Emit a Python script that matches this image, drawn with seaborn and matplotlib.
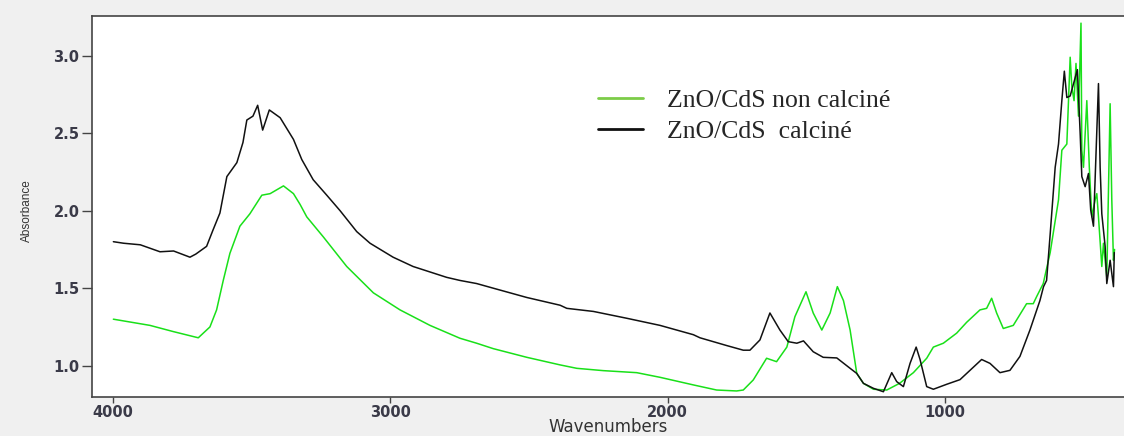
import matplotlib
matplotlib.use("Agg")
import matplotlib.pyplot as plt
from matplotlib.lines import Line2D
import seaborn as sns
import pandas as pd

# ---- data ----
calc_wn = [3997, 3960, 3900, 3829, 3780, 3721, 3700, 3661, 3638, 3613, 3588, 3552, 3530, 3516,
           3494, 3477, 3459, 3435, 3396, 3348, 3318, 3277, 3228, 3180, 3120, 3072, 2989, 2917,
           2796, 2748, 2688, 2628, 2507, 2387, 2363, 2267, 2147, 2027, 1907, 1883, 1787, 1739,
           1727, 1703, 1667, 1631, 1595, 1565, 1534, 1510, 1475, 1439, 1390, 1342, 1318, 1294,
           1258, 1222, 1192, 1174, 1150, 1126, 1104, 1090, 1066, 1042, 994, 946, 898, 868, 838,
           802, 766, 730, 694, 658, 645, 634, 621, 603, 591, 579, 570, 561, 549, 523, 513, 507,
           495, 483, 475, 465, 447, 441, 435, 423, 417, 405, 393, 390]
calc_abs = [1.80, 1.79, 1.78, 1.735, 1.74, 1.70, 1.72, 1.77, 1.875, 1.985, 2.22, 2.31, 2.44, 2.585,
            2.61, 2.68, 2.52, 2.65, 2.60, 2.46, 2.33, 2.20, 2.10, 2.00, 1.865, 1.79, 1.70, 1.64,
            1.57, 1.55, 1.53, 1.50, 1.44, 1.39, 1.37, 1.35, 1.306, 1.26, 1.20, 1.18, 1.13, 1.106,
            1.10, 1.10, 1.166, 1.34, 1.23, 1.155, 1.145, 1.16, 1.09, 1.054, 1.05, 0.983, 0.95, 0.886,
            0.854, 0.832, 0.955, 0.897, 0.865, 1.015, 1.12, 1.04, 0.865, 0.848, 0.88, 0.91, 0.99, 1.04, 1.015,
            0.955, 0.97, 1.06, 1.23, 1.42, 1.51, 1.55, 1.85, 2.28, 2.43, 2.71, 2.90, 2.73, 2.74, 2.91, 2.50, 2.22,
            2.155, 2.24, 2.005, 1.90, 2.82, 2.28, 1.98, 1.77, 1.53, 1.68, 1.51, 1.73]

noncalc_wn = [3997, 3865, 3781, 3691, 3649, 3625, 3601, 3577, 3541, 3505, 3462, 3432, 3384, 3348,
              3324, 3300, 3240, 3156, 3060, 2964, 2856, 2748, 2688, 2628, 2507, 2387, 2327, 2231,
              2111, 2027, 1907, 1823, 1751, 1727, 1691, 1643, 1607, 1570, 1541, 1501, 1475, 1444,
              1414, 1388, 1366, 1342, 1318, 1294, 1258, 1210, 1164, 1114, 1066, 1042, 1006, 958,
              922, 874, 850, 832, 814, 790, 754, 706, 682, 670, 646, 621, 591, 579, 561, 549, 543,
              535, 528, 519, 510, 507, 501, 489, 480, 471, 459, 453, 447, 435, 429, 417, 405, 399,
              393, 389]
noncalc_abs = [1.30, 1.26, 1.22, 1.18, 1.25, 1.36, 1.55, 1.725, 1.90, 1.98, 2.10, 2.11, 2.16, 2.11,
               2.04, 1.96, 1.83, 1.64, 1.47, 1.36, 1.26, 1.177, 1.145, 1.11, 1.054, 1.005, 0.983, 0.968,
               0.955, 0.925, 0.876, 0.843, 0.837, 0.843, 0.908, 1.048, 1.026, 1.12, 1.316, 1.477, 1.34, 1.23,
               1.34, 1.51, 1.42, 1.23, 0.95, 0.886, 0.848, 0.843, 0.886, 0.955, 1.048, 1.12, 1.145, 1.21,
               1.28, 1.36, 1.37, 1.435, 1.34, 1.24, 1.26, 1.40, 1.40, 1.445, 1.53, 1.73, 2.07, 2.39, 2.43, 2.99, 2.80,
               2.71, 2.95, 2.61, 3.21, 2.39, 2.28, 2.71, 2.28, 1.96, 2.07, 2.11, 1.96, 1.64, 1.79, 1.57, 2.69, 2.07,
               1.68, 1.75]

labels = ["ZnO/CdS non calciné", "ZnO/CdS  calciné"]
x_ticks = [4000, 3000, 2000, 1000]
y_ticks = [1.0, 1.5, 2.0, 2.5, 3.0]

df = pd.concat([
    pd.DataFrame({"Wavenumbers": noncalc_wn, "Absorbance": noncalc_abs, "sample": labels[0]}),
    pd.DataFrame({"Wavenumbers": calc_wn, "Absorbance": calc_abs, "sample": labels[1]}),
], ignore_index=True)

sns.set_theme(style="white")
plt.rcParams["font.family"] = ["DejaVu Sans"]

fig = plt.figure(figsize=(11.24, 4.36), dpi=100)
fig.patch.set_facecolor("#f0f0f0")
ax = fig.add_axes([92 / 1124, 39 / 436, 1032 / 1124, 381.3 / 436])
ax.set_facecolor("white")

data_colors = {labels[0]: "#19e019", labels[1]: "#111111"}
sns.lineplot(data=df, x="Wavenumbers", y="Absorbance", hue="sample", palette=data_colors,
             estimator=None, sort=False, linewidth=1.1, ax=ax, legend=False)

ax.set_xlim(4074, 355)
ax.set_ylim(0.798, 3.258)
ax.set_xticks(x_ticks)
ax.set_xticklabels([str(t) for t in x_ticks])
ax.set_yticks(y_ticks)
ax.set_yticklabels([f"{t:.1f}" for t in y_ticks])

for s in ["left", "bottom", "top"]:
    ax.spines[s].set_color("#444444")
    ax.spines[s].set_linewidth(1.2)
ax.spines["right"].set_visible(False)

ax.tick_params(axis="y", which="major", direction="out", length=7, width=1.0, color="#444444",
               labelsize=10.5, labelcolor="#3a3a48", pad=2, left=True)
ax.tick_params(axis="x", which="major", direction="out", length=4, width=1.0, color="#444444",
               labelsize=10.5, labelcolor="#3a3a48", pad=2, bottom=True)
for lab in ax.get_xticklabels() + ax.get_yticklabels():
    lab.set_fontweight("bold")

ax.set_xlabel("Wavenumbers", fontsize=12, color="#333333", family=["DejaVu Sans"])
ax.xaxis.set_label_coords(0.5, -0.055)
ax.set_ylabel("Absorbance", fontsize=8.5, color="#333333",
              family=["Liberation Sans Narrow", "Liberation Sans"])
ax.yaxis.set_label_coords(-0.057, 0.49)

handles = [Line2D([], [], color="#7ccc48", linewidth=2.0),
           Line2D([], [], color="#111111", linewidth=2.0)]
leg = ax.legend(handles, labels, loc="upper left", bbox_to_anchor=(598 / 1124, 1 - 89 / 436),
                bbox_transform=fig.transFigure, frameon=False, borderpad=0, borderaxespad=0,
                handlelength=1.75, handletextpad=0.93, labelspacing=0.33,
                prop={"family": ["Liberation Serif", "DejaVu Serif"], "size": 18.5})

fig.savefig("out.png", dpi=100, facecolor=fig.get_facecolor())
